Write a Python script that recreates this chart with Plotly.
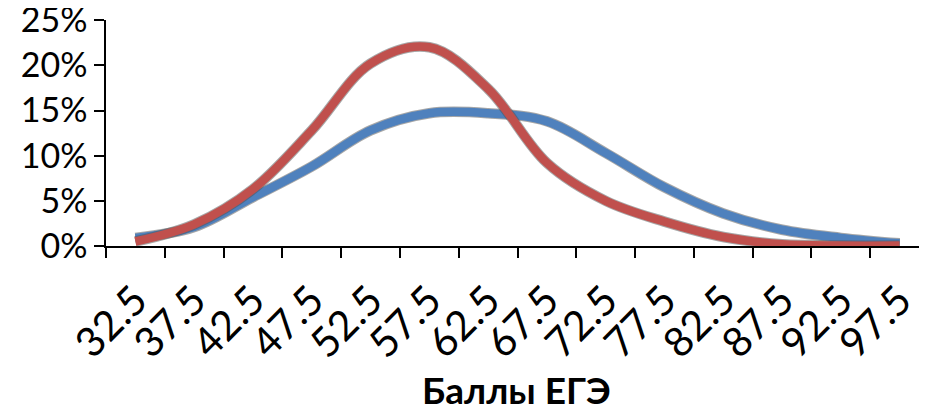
import plotly.graph_objects as go

categories = ["32.5", "37.5", "42.5", "47.5", "52.5", "57.5", "62.5",
              "67.5", "72.5", "77.5", "82.5", "87.5", "92.5", "97.5"]
blue_values = [0.009, 0.021, 0.054, 0.088, 0.128, 0.147, 0.147,
               0.138, 0.103, 0.065, 0.036, 0.018, 0.009, 0.003]
red_values = [0.005, 0.024, 0.063, 0.128, 0.202, 0.220, 0.174,
              0.092, 0.050, 0.027, 0.010, 0.002, 0.0005, 0.0005]
y_ticks = [0, 0.05, 0.10, 0.15, 0.20, 0.25]
x_title = "Баллы ЕГЭ"

FONT = "Lato, 'Open Sans', sans-serif"

fig = go.Figure()
for vals, col in [(blue_values, "#4F81BD"), (red_values, "#C0504D")]:
    fig.add_trace(go.Scatter(x=categories, y=vals, mode="lines",
                             line=dict(color="rgba(80,80,80,0.5)", width=10.5, shape="spline", smoothing=1),
                             hoverinfo="skip", showlegend=False))
    fig.add_trace(go.Scatter(x=categories, y=vals, mode="lines",
                             line=dict(color=col, width=8.5, shape="spline", smoothing=1),
                             showlegend=False))

# page body has an 8px default margin: compensate in the figure margins
fig.update_layout(
    width=919, height=402,
    margin=dict(l=98, r=0, t=12, b=164),
    plot_bgcolor="white", paper_bgcolor="white",
    font=dict(family=FONT, color="black"),
    xaxis=dict(type="category", range=[-0.5, 13.466], tickson="boundaries",
               ticks="outside", ticklen=10, tickwidth=1.5, tickcolor="black",
               showline=True, linecolor="black", linewidth=1.5,
               showgrid=False, zeroline=False, tickangle=-45, automargin=False,
               tickfont=dict(size=41, family=FONT), ticklabelstandoff=12),
    yaxis=dict(range=[0, 0.2502], tickvals=y_ticks, tickformat=".0%",
               ticks="outside", ticklen=10, tickwidth=1.5, tickcolor="black",
               showline=True, linecolor="black", linewidth=1.5,
               showgrid=False, zeroline=False, automargin=False,
               ticklabeloverflow="allow",
               tickfont=dict(size=34, family=FONT)),
    annotations=[dict(text="<b>" + x_title + "</b>", xref="paper", yref="paper",
                      x=0.5006, y=-0.633, xanchor="center", yanchor="middle",
                      showarrow=False, font=dict(size=37, family=FONT, color="black"))],
)

fig.write_html("out.html")
